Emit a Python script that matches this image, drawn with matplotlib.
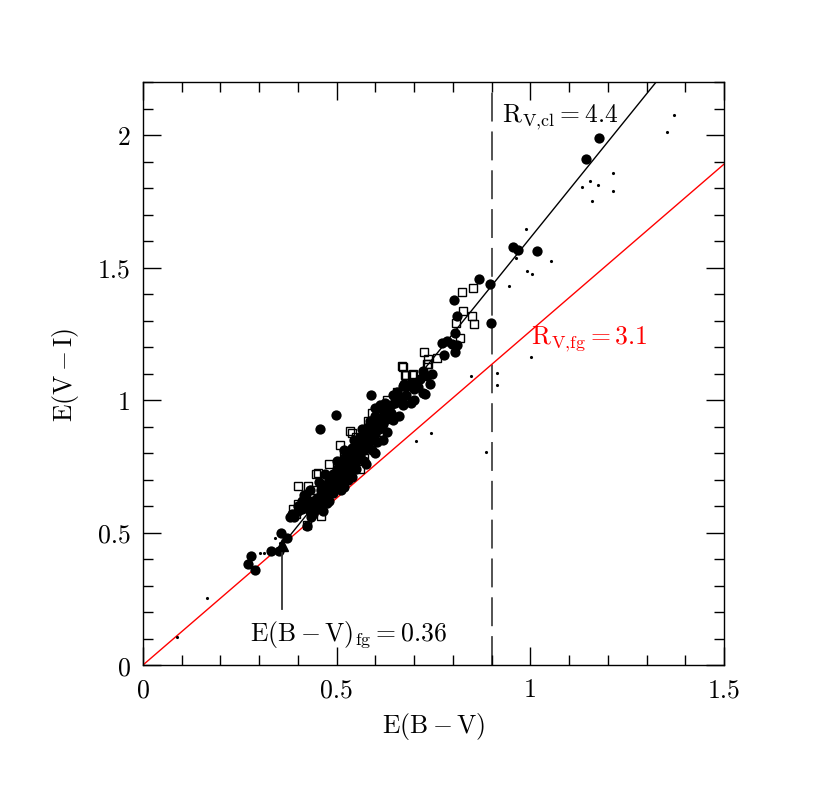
import matplotlib
matplotlib.use("Agg")
import matplotlib.pyplot as plt
import numpy as np

plt.rcParams['font.family'] = ['cmr10', 'DejaVu Serif']
plt.rcParams['mathtext.fontset'] = 'cm'
plt.rcParams['axes.unicode_minus'] = False

# ---------------- data ----------------
fill_bv = [0.27, 0.29, 0.28, 0.33, 0.35, 0.356, 0.371,
           0.38, 0.385, 0.39, 0.40, 0.40, 0.41, 0.41, 0.42, 0.42, 0.43, 0.43, 0.44, 0.44,
           0.45, 0.45, 0.46, 0.424, 0.44,
           0.46, 0.47, 0.47, 0.48, 0.48, 0.49, 0.49, 0.49, 0.50, 0.50, 0.50, 0.51, 0.51, 0.51,
           0.52, 0.52, 0.52, 0.53, 0.53, 0.53, 0.54, 0.54, 0.54, 0.55, 0.55, 0.55, 0.56, 0.56,
           0.56, 0.57, 0.57, 0.57, 0.58, 0.58, 0.58, 0.59, 0.59, 0.59, 0.60, 0.60, 0.60, 0.61,
           0.61, 0.61, 0.62, 0.62, 0.62, 0.63, 0.63, 0.64, 0.64, 0.646, 0.646, 0.65, 0.66, 0.67,
           0.671, 0.68, 0.681, 0.692, 0.70, 0.705, 0.71, 0.723, 0.728, 0.722, 0.732, 0.612,
           0.612, 0.668,
           0.47, 0.48, 0.50, 0.51, 0.52, 0.53, 0.545, 0.55, 0.565, 0.57, 0.585, 0.59, 0.60,
           0.605, 0.625, 0.63, 0.655, 0.66, 0.675, 0.69, 0.70, 0.715, 0.74, 0.745, 0.43,
           0.415, 0.455, 0.465, 0.435, 0.475, 0.52, 0.54, 0.575, 0.60,
           0.458, 0.498, 0.589,
           0.771, 0.784, 0.797, 0.81, 0.778, 0.806, 0.806, 0.811, 0.804, 0.868, 0.895, 0.899,
           0.954, 0.967, 1.016, 1.144, 1.178]
fill_vi = [0.38, 0.36, 0.41, 0.43, 0.43, 0.50, 0.478,
           0.56, 0.57, 0.56, 0.58, 0.60, 0.59, 0.62, 0.60, 0.63, 0.61, 0.58, 0.62, 0.60,
           0.63, 0.59, 0.61, 0.525, 0.57,
           0.66, 0.64, 0.68, 0.66, 0.70, 0.68, 0.65, 0.72, 0.70, 0.67, 0.74, 0.72, 0.69, 0.76,
           0.74, 0.71, 0.78, 0.76, 0.73, 0.80, 0.78, 0.75, 0.82, 0.80, 0.77, 0.84, 0.82, 0.79,
           0.86, 0.84, 0.81, 0.88, 0.86, 0.83, 0.90, 0.88, 0.85, 0.92, 0.90, 0.87, 0.94, 0.92,
           0.89, 0.97, 0.94, 0.91, 0.85, 0.96, 0.93, 0.98, 0.95, 0.926, 1.02, 0.99, 1.00, 0.98,
           1.052, 1.02, 1.052, 0.99, 1.04, 1.065, 1.05, 1.028, 1.021, 1.11, 1.09, 0.977,
           0.983, 1.002,
           0.72, 0.62, 0.77, 0.66, 0.81, 0.70, 0.85, 0.74, 0.89, 0.77, 0.92, 0.81, 0.97,
           0.84, 0.99, 0.88, 1.03, 0.94, 1.06, 1.06, 1.00, 1.08, 1.06, 1.10, 0.66,
           0.64, 0.69, 0.58, 0.56, 0.61, 0.67, 0.71, 0.76, 0.80,
           0.892, 0.942, 1.02,
           1.215, 1.222, 1.211, 1.209, 1.168, 1.18, 1.253, 1.318, 1.377, 1.458, 1.439, 1.292,
           1.579, 1.567, 1.564, 1.911, 1.99]

open_bv = [0.388, 0.40, 0.395, 0.423, 0.459, 0.40, 0.426, 0.447, 0.452, 0.503, 0.42, 0.47,
           0.48, 0.509, 0.539, 0.534, 0.568, 0.52, 0.55, 0.58, 0.59, 0.616, 0.63, 0.655,
           0.668, 0.676, 0.694, 0.67, 0.679, 0.698, 0.726, 0.737, 0.737, 0.76, 0.732,
           0.818, 0.808, 0.825, 0.849, 0.855, 0.823, 0.853, 0.57, 0.61, 0.47, 0.44, 0.56]
open_vi = [0.588, 0.606, 0.57, 0.527, 0.562, 0.675, 0.675, 0.72, 0.725, 0.672, 0.64, 0.70,
           0.76, 0.832, 0.876, 0.883, 0.883, 0.80, 0.86, 0.92, 0.95, 0.983, 1.0, 1.03,
           1.127, 1.096, 1.096, 1.126, 1.093, 1.099, 1.181, 1.153, 1.134, 1.159, 1.134,
           1.233, 1.291, 1.336, 1.316, 1.288, 1.406, 1.421, 0.78, 0.88, 0.61, 0.66, 0.738]

dot_bv = [0.087, 0.166, 0.302, 0.312, 0.341, 0.354, 0.705, 0.743, 0.848, 0.886, 0.913,
          0.913, 0.944, 0.963, 0.989, 0.991, 1.004, 1.002, 1.053, 1.133, 1.154, 1.175,
          1.16, 1.213, 1.214, 1.352, 1.371]
dot_vi = [0.104, 0.251, 0.422, 0.424, 0.478, 0.462, 0.845, 0.875, 1.09, 0.805, 1.102,
          1.058, 1.43, 1.534, 1.646, 1.488, 1.476, 1.164, 1.525, 1.805, 1.827, 1.811,
          1.75, 1.856, 1.789, 2.011, 2.075]

ebv_fg = 0.36          # foreground reddening
slope_fg = 1.26        # E(V-I)/E(B-V) for R_V,fg = 3.1
slope_cl = 1.81        # E(V-I)/E(B-V) for R_V,cl = 4.4
ebv_cut = 0.9

xticks = [0, 0.5, 1, 1.5]
xticklabels = ['0', '0.5', '1', '1.5']
yticks = [0, 0.5, 1, 1.5, 2]
yticklabels = ['0', '0.5', '1', '1.5', '2']

FS = 18.5

# ---------------- figure ----------------
fig = plt.figure(figsize=(8.3, 8.03), dpi=100)
ax = fig.add_axes([143/830, 1-666/803, (724-143)/830, (666-83)/803])
ax.set_xlim(0, 1.5)
ax.set_ylim(0, 2.2)

# foreground reddening line (red)
xr = np.array([0, 1.5])
ax.plot(xr, slope_fg*xr, color='red', lw=1.0, zorder=2)

# cluster line (black), starting at the foreground point
y0 = slope_fg*ebv_fg
xc = np.array([ebv_fg, ebv_fg + (2.3 - y0)/slope_cl])
ax.plot(xc, y0 + slope_cl*(xc-ebv_fg), color='black', lw=1.0, zorder=2)

# vertical dashed line
ax.axvline(ebv_cut, color='#444444', lw=1.3, linestyle=(0, (16, 5.5)), zorder=1)

# data
ax.plot(fill_bv, fill_vi, 'o', color='black', ms=7.4, mew=0, zorder=3)
ax.plot(open_bv, open_vi, 's', mfc='none', mec='black', ms=6.0, mew=1.0, zorder=4)
ax.plot(dot_bv, dot_vi, '.', color='black', ms=2.5, zorder=3)

# arrow with triangle
ax.plot([ebv_fg, ebv_fg], [0.21, y0-0.01], color='#333333', lw=1.3, zorder=3)
ax.plot([ebv_fg], [y0], '^', color='black', ms=8, zorder=5)

# texts
ax.text(0.276, 0.098, r'$\mathrm{E(B-V)_{fg}=0.36}$', fontsize=FS, color='black')
ax.text(0.927, 2.05, r'$\mathrm{R_{V{,}cl}=4.4}$', fontsize=FS, color='black')
ax.text(1.002, 1.21, r'$\mathrm{R_{V{,}fg}=3.1}$', fontsize=FS, color='red')

ax.set_xlabel(r'$\mathrm{E(B-V)}$', fontsize=FS, labelpad=6)
ax.set_ylabel(r'$\mathrm{E(V-I)}$', fontsize=FS, labelpad=12)

ax.set_xticks(xticks)
ax.set_xticklabels(xticklabels)
ax.set_yticks(yticks)
ax.set_yticklabels(yticklabels)
ax.set_xticks(np.arange(0, 1.51, 0.1), minor=True)
ax.set_yticks(np.arange(0, 2.21, 0.1), minor=True)
ax.tick_params(which='both', direction='in', top=True, right=True, labelsize=FS, width=1.0)
ax.tick_params(which='major', length=13, pad=9)
ax.tick_params(which='minor', length=7)
for s in ax.spines.values():
    s.set_linewidth(1.0)

fig.savefig('out.png', dpi=100)
